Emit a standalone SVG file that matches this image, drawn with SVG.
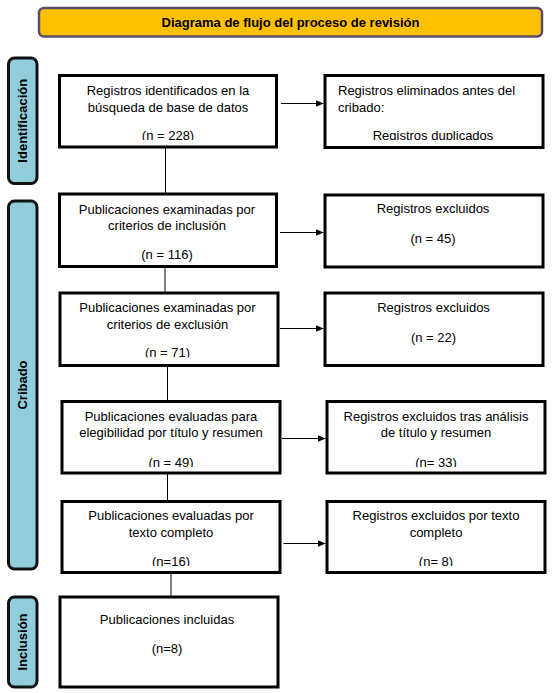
<svg xmlns="http://www.w3.org/2000/svg" width="560" height="693" viewBox="0 0 560 693">
<style>
  .box { fill: #ffffff; stroke: #000000; stroke-width: 3; }
  .side { fill: #92CDDC; stroke: #111111; stroke-width: 3; }
  .title { fill: #FFC000; stroke: #5C4B6C; stroke-width: 2.5; }
  .t { font-family: "Liberation Sans", Arial, sans-serif; font-size: 13px; fill: #000000; }
  .c { text-anchor: middle; }
  .b { font-weight: bold; }
  .conn { stroke: #000000; stroke-width: 1; fill: none; }
</style>
<defs>
  <marker id="arrow" markerUnits="userSpaceOnUse" markerWidth="9" markerHeight="8" refX="8" refY="3.5" orient="auto">
    <path d="M0,0 L8,3.5 L0,7 Z" fill="#000000"/>
  </marker>
  <clipPath id="clip1"><rect x="0" y="0" width="560" height="140"/></clipPath>
  <clipPath id="clip5"><rect x="0" y="0" width="560" height="357.5"/></clipPath>
  <clipPath id="clip7"><rect x="0" y="0" width="560" height="467"/></clipPath>
  <clipPath id="clip9"><rect x="0" y="0" width="560" height="566"/></clipPath>
</defs>

<g id="title">
  <rect class="title" x="39" y="8" width="503" height="28.5" rx="5"/>
  <text class="t c b" x="290.5" y="27">Diagrama de flujo del proceso de revisión</text>
</g>

<g id="phase-identificacion">
  <rect class="side" x="8.5" y="58" width="28.5" height="125.5" rx="6"/>
  <text class="t c b" transform="translate(27,120.75) rotate(-90)">Identificación</text>
</g>
<g id="phase-cribado">
  <rect class="side" x="8.5" y="201" width="28.5" height="368" rx="6"/>
  <text class="t c b" transform="translate(27,385) rotate(-90)">Cribado</text>
</g>
<g id="phase-inclusion">
  <rect class="side" x="8.5" y="597" width="28.5" height="90" rx="6"/>
  <text class="t c b" transform="translate(27,642) rotate(-90)">Inclusión</text>
</g>

<g id="connectors">
  <line class="conn" x1="165.5" y1="147" x2="165.5" y2="194"/>
  <line class="conn" x1="165" y1="266.5" x2="165" y2="293"/>
  <line class="conn" x1="167.5" y1="365.5" x2="167.5" y2="401.5"/>
  <line class="conn" x1="167.5" y1="473" x2="167.5" y2="501.5"/>
  <line class="conn" x1="171" y1="572.5" x2="171" y2="597"/>
  <line class="conn" x1="281" y1="103.5" x2="323.5" y2="103.5" marker-end="url(#arrow)"/>
  <line class="conn" x1="280" y1="232.5" x2="323.5" y2="232.5" marker-end="url(#arrow)"/>
  <line class="conn" x1="280" y1="328.5" x2="323.5" y2="328.5" marker-end="url(#arrow)"/>
  <line class="conn" x1="282" y1="438.5" x2="325.5" y2="438.5" marker-end="url(#arrow)"/>
  <line class="conn" x1="283.5" y1="543.5" x2="325.5" y2="543.5" marker-end="url(#arrow)"/>
</g>

<g id="box1">
  <rect class="box" x="59.5" y="75.5" width="217" height="71.5"/>
  <text class="t c" x="168" y="95">Registros identificados en la</text>
  <text class="t c" x="168" y="112">búsqueda de base de datos</text>
  <text class="t c" x="168" y="139.5" clip-path="url(#clip1)">(n = 228)</text>
</g>
<g id="box2">
  <rect class="box" x="325" y="75.5" width="218" height="72"/>
  <text class="t" x="338" y="95">Registros eliminados antes del</text>
  <text class="t" x="338" y="112">cribado:</text>
  <text class="t c" x="433" y="139.5" clip-path="url(#clip1)">Registros duplicados</text>
</g>
<g id="box3">
  <rect class="box" x="59.5" y="194" width="217" height="72.5"/>
  <text class="t c" x="167" y="213.5">Publicaciones examinadas por</text>
  <text class="t c" x="167" y="230">criterios de inclusión</text>
  <text class="t c" x="167" y="258.5">(n = 116)</text>
</g>
<g id="box4">
  <rect class="box" x="325" y="195" width="218" height="72"/>
  <text class="t c" x="433" y="213">Registros excluidos</text>
  <text class="t c" x="433" y="243">(n = 45)</text>
</g>
<g id="box5">
  <rect class="box" x="60" y="293" width="218" height="72.5"/>
  <text class="t c" x="167.5" y="311.5">Publicaciones examinadas por</text>
  <text class="t c" x="167.5" y="328.5">criterios de exclusión</text>
  <text class="t c" x="167.5" y="357" clip-path="url(#clip5)">(n = 71)</text>
</g>
<g id="box6">
  <rect class="box" x="325" y="293" width="218" height="72.5"/>
  <text class="t c" x="433.5" y="311.5">Registros excluidos</text>
  <text class="t c" x="433.5" y="341.5">(n = 22)</text>
</g>
<g id="box7">
  <rect class="box" x="62" y="401.5" width="218" height="71.5"/>
  <text class="t c" x="171" y="420.5">Publicaciones evaluadas para</text>
  <text class="t c" x="171" y="437">elegibilidad por título y resumen</text>
  <text class="t c" x="171" y="466.5" clip-path="url(#clip7)">(n = 49)</text>
</g>
<g id="box8">
  <rect class="box" x="327" y="401.5" width="218" height="71.5"/>
  <text class="t c" x="436" y="420.5">Registros excluidos tras análisis</text>
  <text class="t c" x="436" y="437">de título y resumen</text>
  <text class="t c" x="436" y="466.5" clip-path="url(#clip7)">(n= 33)</text>
</g>
<g id="box9">
  <rect class="box" x="62" y="501.5" width="218" height="71"/>
  <text class="t c" x="171" y="520">Publicaciones evaluadas por</text>
  <text class="t c" x="171" y="536.5">texto completo</text>
  <text class="t c" x="171" y="566" clip-path="url(#clip9)">(n=16)</text>
</g>
<g id="box10">
  <rect class="box" x="327" y="501.5" width="218" height="71"/>
  <text class="t c" x="436" y="520">Registros excluidos por texto</text>
  <text class="t c" x="436" y="536.5">completo</text>
  <text class="t c" x="436" y="566" clip-path="url(#clip9)">(n= 8)</text>
</g>
<g id="box11">
  <rect class="box" x="60" y="597" width="218" height="90"/>
  <text class="t c" x="167" y="624">Publicaciones incluidas</text>
  <text class="t c" x="167" y="653">(n=8)</text>
</g>
</svg>
